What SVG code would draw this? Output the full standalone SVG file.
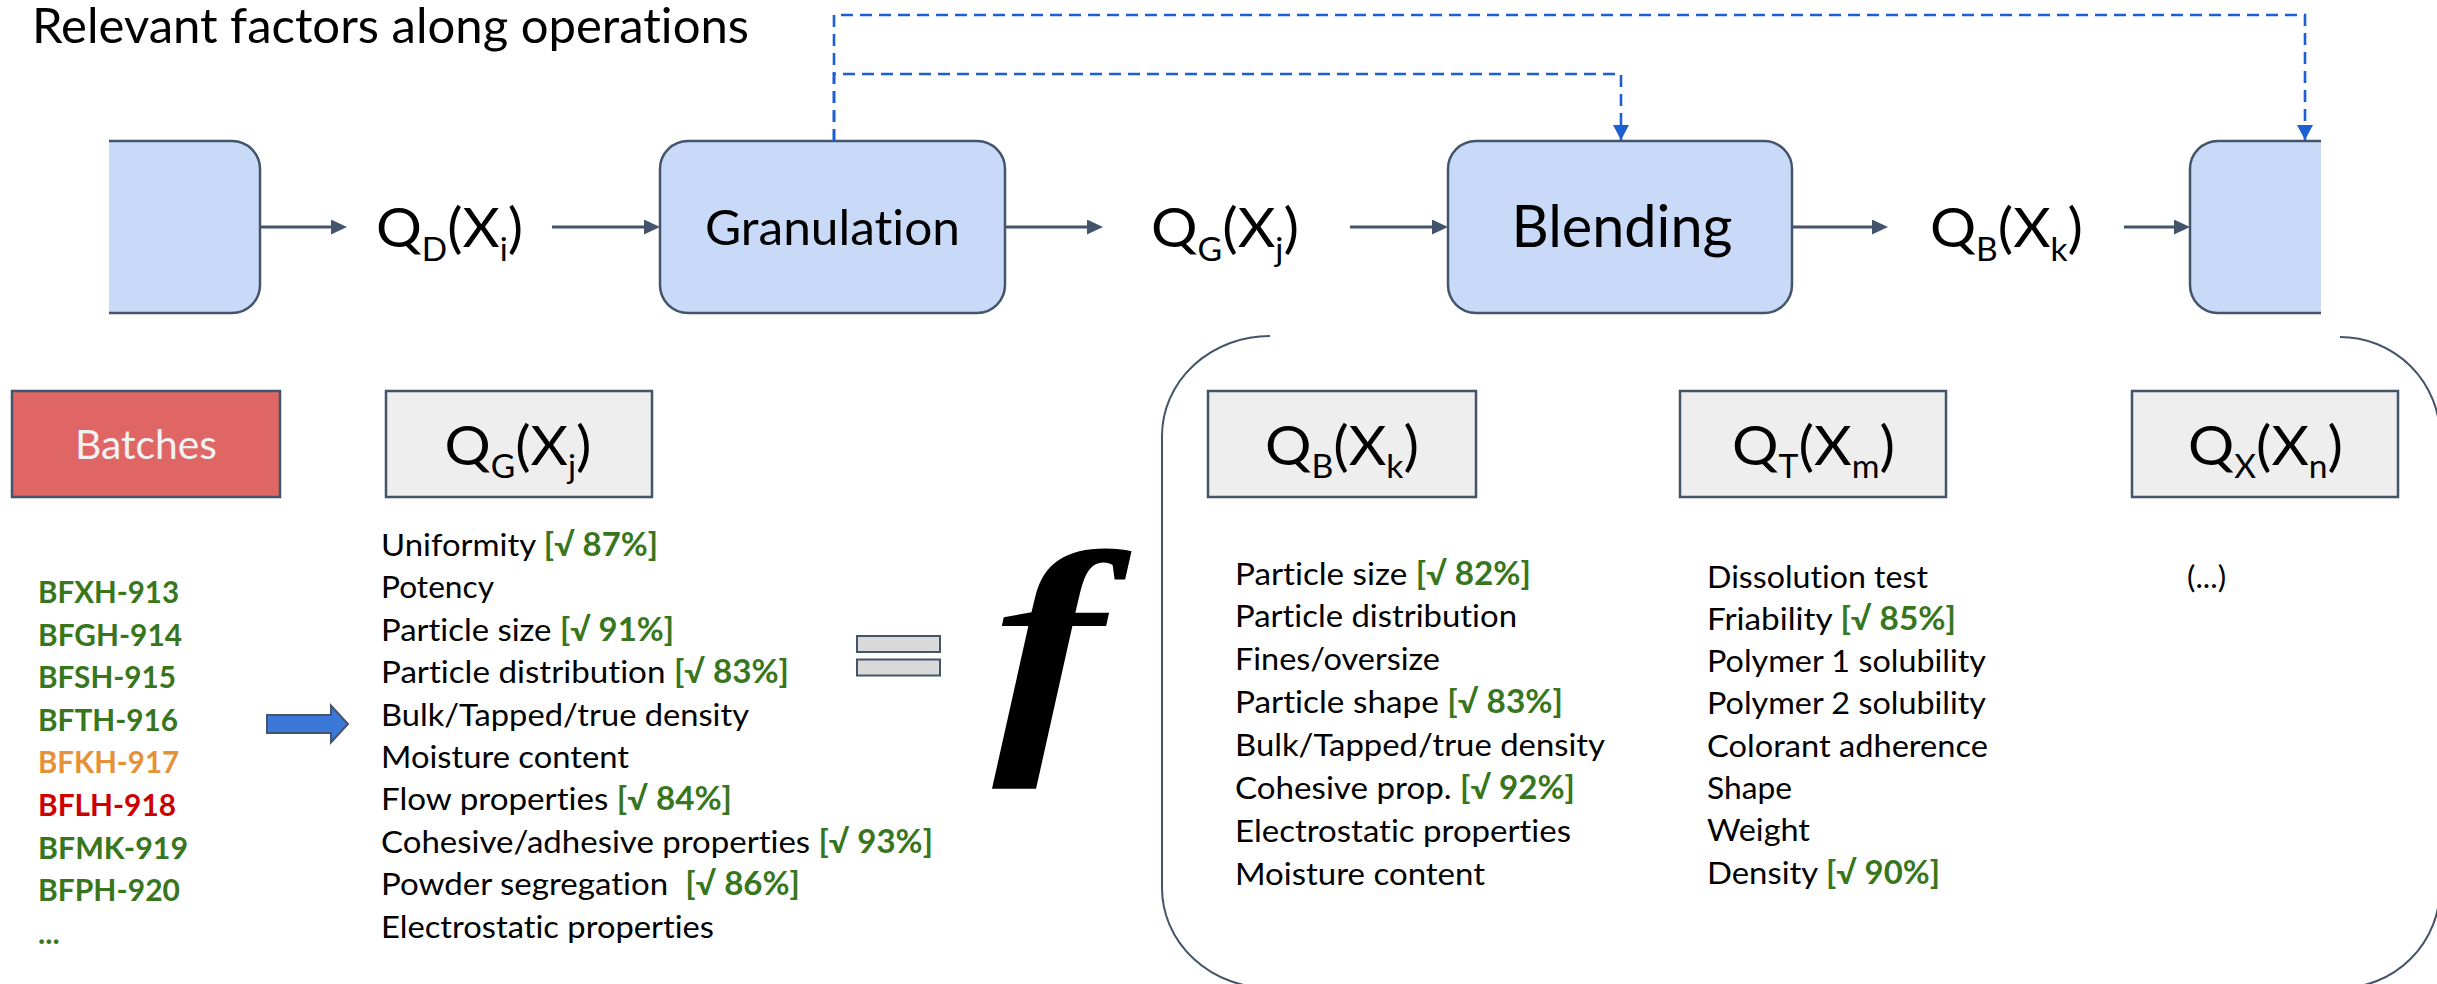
<svg xmlns="http://www.w3.org/2000/svg" width="2437" height="984" viewBox="0 0 2437 984">
  <defs>
    <style>
      .txt { font-family: Lato, "Liberation Sans", sans-serif; fill: #000; font-variant-ligatures: none; }
      .title { font-size: 48px; }
      .op { font-size: 48.5px; }
      .q { font-size: 55px; }
      .sub { font-size: 32px; }
      .list { font-size: 31.5px; }
      .ok { fill: #38761D; font-weight: bold; }
      .batch { font-size: 30.5px; font-weight: bold; fill: #38761D; }
      .proc { fill: #C9DAF8; stroke: #44546A; stroke-width: 2.5; }
      .qbox { fill: #EEEEEE; stroke: #44546A; stroke-width: 2.5; }
      .flow { fill: none; stroke: #44546A; stroke-width: 3; }
      .feed { fill: none; stroke: #1C5FD4; stroke-width: 2.6; stroke-dasharray: 12 7; }
      .bracket { fill: none; stroke: #44546A; stroke-width: 2; }
    </style>
    <marker id="ah" viewBox="0 0 16 15" refX="10" refY="7.5" markerWidth="16" markerHeight="15" markerUnits="userSpaceOnUse" orient="auto">
      <path d="M0,0 L16,7.5 L0,15 z" fill="#44546A"/>
    </marker>
    <marker id="ahBlue" viewBox="0 0 15 16" refX="15" refY="8" markerWidth="15" markerHeight="16" markerUnits="userSpaceOnUse" orient="auto">
      <path d="M0,0 L15,8 L0,16 z" fill="#1C5FD4"/>
    </marker>
  </defs>

  <rect width="2437" height="984" fill="#FFFFFF"/>

  <text class="txt title" x="32" y="43" textLength="717" lengthAdjust="spacingAndGlyphs">Relevant factors along operations</text>

  <!-- process chain -->
  <g id="node-upstream">
    <path class="proc" d="M109,141 H232 A28,28 0 0 1 260,169 V285 A28,28 0 0 1 232,313 H109"/>
  </g>
  <g id="node-qd">
    <text class="txt q" x="449.5" y="247" text-anchor="middle" textLength="147" lengthAdjust="spacingAndGlyphs">Q<tspan class="sub" dy="14">D</tspan><tspan dy="-14">(X</tspan><tspan class="sub" dy="14">i</tspan><tspan dy="-14">)</tspan></text>
  </g>
  <g id="node-granulation">
    <rect class="proc" x="660" y="141" width="345" height="172" rx="28" ry="28"/>
    <text class="txt op" x="832.5" y="245" text-anchor="middle" textLength="255" lengthAdjust="spacingAndGlyphs">Granulation</text>
  </g>
  <g id="node-qg">
    <text class="txt q" x="1225" y="247" text-anchor="middle" textLength="148" lengthAdjust="spacingAndGlyphs">Q<tspan class="sub" dy="14">G</tspan><tspan dy="-14">(X</tspan><tspan class="sub" dy="14">j</tspan><tspan dy="-14">)</tspan></text>
  </g>
  <g id="node-blending">
    <rect class="proc" x="1448" y="141" width="344" height="172" rx="28" ry="28"/>
    <text class="txt" x="1622" y="247" font-size="59" text-anchor="middle" textLength="221" lengthAdjust="spacingAndGlyphs">Blending</text>
  </g>
  <g id="node-qb">
    <text class="txt q" x="2006.5" y="247" text-anchor="middle" textLength="153" lengthAdjust="spacingAndGlyphs">Q<tspan class="sub" dy="14">B</tspan><tspan dy="-14">(X</tspan><tspan class="sub" dy="14">k</tspan><tspan dy="-14">)</tspan></text>
  </g>
  <g id="node-downstream">
    <path class="proc" d="M2321,141 H2218 A28,28 0 0 0 2190,169 V285 A28,28 0 0 0 2218,313 H2321"/>
  </g>

  <!-- connectors -->
  <g id="connectors">
    <line class="flow" x1="260" y1="227" x2="341" y2="227" marker-end="url(#ah)"/>
    <line class="flow" x1="552" y1="227" x2="654" y2="227" marker-end="url(#ah)"/>
    <line class="flow" x1="1005" y1="227" x2="1097" y2="227" marker-end="url(#ah)"/>
    <line class="flow" x1="1350" y1="227" x2="1442" y2="227" marker-end="url(#ah)"/>
    <line class="flow" x1="1792" y1="227" x2="1882" y2="227" marker-end="url(#ah)"/>
    <line class="flow" x1="2124" y1="227" x2="2184" y2="227" marker-end="url(#ah)"/>
    <path class="feed" d="M834,141 V15 H2305 V140" marker-end="url(#ahBlue)"/>
    <path class="feed" d="M834,141 V74 H1621 V140" marker-end="url(#ahBlue)"/>
  </g>

  <!-- batches -->
  <g id="node-batches">
    <rect x="12" y="391" width="268" height="106" fill="#E06666" stroke="#44546A" stroke-width="2.5"/>
    <text class="txt" x="146" y="459" font-size="40" style="fill:#F2F2F2" text-anchor="middle" textLength="142" lengthAdjust="spacingAndGlyphs">Batches</text>
  </g>
  <g id="batch-list">
    <text class="txt batch" x="38" y="603" textLength="141" lengthAdjust="spacingAndGlyphs">BFXH-913</text>
    <text class="txt batch" x="38" y="645.6" textLength="144" lengthAdjust="spacingAndGlyphs">BFGH-914</text>
    <text class="txt batch" x="38" y="688.2" textLength="138" lengthAdjust="spacingAndGlyphs">BFSH-915</text>
    <text class="txt batch" x="38" y="730.8" textLength="140" lengthAdjust="spacingAndGlyphs">BFTH-916</text>
    <text class="txt batch" x="38" y="773.4" style="fill:#E69138" textLength="141" lengthAdjust="spacingAndGlyphs">BFKH-917</text>
    <text class="txt batch" x="38" y="816" style="fill:#CC0000" textLength="138" lengthAdjust="spacingAndGlyphs">BFLH-918</text>
    <text class="txt batch" x="38" y="858.6" textLength="150" lengthAdjust="spacingAndGlyphs">BFMK-919</text>
    <text class="txt batch" x="38" y="901.2" textLength="142" lengthAdjust="spacingAndGlyphs">BFPH-920</text>
    <text class="txt batch" x="38" y="943.8">...</text>
  </g>
  <g id="batch-arrow">
    <path d="M267,715 H331 V705.5 L348,724 L331,742.5 V733 H267 Z" fill="#3C78D8" stroke="#44546A" stroke-width="2"/>
  </g>

  <!-- granulation quality attributes -->
  <g id="node-qg-box">
    <rect class="qbox" x="386" y="391" width="266" height="106"/>
    <text class="txt q" x="518" y="465" text-anchor="middle" textLength="147" lengthAdjust="spacingAndGlyphs">Q<tspan class="sub" dy="13">G</tspan><tspan dy="-13">(X</tspan><tspan class="sub" dy="13">j</tspan><tspan dy="-13">)</tspan></text>
  </g>
  <g id="qg-list">
    <text class="txt list" x="381" y="556" textLength="277" lengthAdjust="spacingAndGlyphs">Uniformity <tspan class="ok">[√ 87%]</tspan></text>
    <text class="txt list" x="381" y="598.4" textLength="113" lengthAdjust="spacingAndGlyphs">Potency</text>
    <text class="txt list" x="381" y="640.8" textLength="293" lengthAdjust="spacingAndGlyphs">Particle size <tspan class="ok">[√ 91%]</tspan></text>
    <text class="txt list" x="381" y="683.2" textLength="408" lengthAdjust="spacingAndGlyphs">Particle distribution <tspan class="ok">[√ 83%]</tspan></text>
    <text class="txt list" x="381" y="725.6" textLength="368" lengthAdjust="spacingAndGlyphs">Bulk/Tapped/true density</text>
    <text class="txt list" x="381" y="768" textLength="248" lengthAdjust="spacingAndGlyphs">Moisture content</text>
    <text class="txt list" x="381" y="810.4" textLength="351" lengthAdjust="spacingAndGlyphs">Flow properties <tspan class="ok">[√ 84%]</tspan></text>
    <text class="txt list" x="381" y="852.8" textLength="552" lengthAdjust="spacingAndGlyphs">Cohesive/adhesive properties <tspan class="ok">[√ 93%]</tspan></text>
    <text class="txt list" x="381" y="895.2" xml:space="preserve" textLength="419" lengthAdjust="spacingAndGlyphs">Powder segregation  <tspan class="ok">[√ 86%]</tspan></text>
    <text class="txt list" x="381" y="937.6" textLength="333" lengthAdjust="spacingAndGlyphs">Electrostatic properties</text>
  </g>

  <!-- equals sign and function symbol -->
  <g id="equals">
    <rect x="857" y="636" width="83" height="16" fill="#D9D9D9" stroke="#44546A" stroke-width="2"/>
    <rect x="857" y="659.5" width="83" height="16" fill="#D9D9D9" stroke="#44546A" stroke-width="2"/>
  </g>
  <g id="function">
    <text transform="translate(992,733) scale(1.28,1)" x="0" y="0" font-family="'Liberation Serif', serif" font-style="italic" font-weight="bold" font-size="262" fill="#000">f</text>
  </g>

  <!-- bracketed downstream attributes -->
  <g id="bracket">
    <path class="bracket" d="M1270,336 A108,100 0 0 0 1162,436 V888 A108,100 0 0 0 1270,988"/>
    <path class="bracket" d="M2340,337 A100,100 0 0 1 2440,437 V888 A100,100 0 0 1 2340,988"/>
  </g>

  <g id="node-qb-box">
    <rect class="qbox" x="1208" y="391" width="268" height="106"/>
    <text class="txt q" x="1342" y="465" text-anchor="middle" textLength="154" lengthAdjust="spacingAndGlyphs">Q<tspan class="sub" dy="13">B</tspan><tspan dy="-13">(X</tspan><tspan class="sub" dy="13">k</tspan><tspan dy="-13">)</tspan></text>
  </g>
  <g id="qb-list">
    <text class="txt list" x="1235" y="584.5" textLength="296" lengthAdjust="spacingAndGlyphs">Particle size <tspan class="ok">[√ 82%]</tspan></text>
    <text class="txt list" x="1235" y="627.4" textLength="282" lengthAdjust="spacingAndGlyphs">Particle distribution</text>
    <text class="txt list" x="1235" y="670.3" textLength="205" lengthAdjust="spacingAndGlyphs">Fines/oversize</text>
    <text class="txt list" x="1235" y="713.2" textLength="328" lengthAdjust="spacingAndGlyphs">Particle shape <tspan class="ok">[√ 83%]</tspan></text>
    <text class="txt list" x="1235" y="756.1" textLength="370" lengthAdjust="spacingAndGlyphs">Bulk/Tapped/true density</text>
    <text class="txt list" x="1235" y="799" textLength="340" lengthAdjust="spacingAndGlyphs">Cohesive prop. <tspan class="ok">[√ 92%]</tspan></text>
    <text class="txt list" x="1235" y="841.9" textLength="336" lengthAdjust="spacingAndGlyphs">Electrostatic properties</text>
    <text class="txt list" x="1235" y="884.8" textLength="250" lengthAdjust="spacingAndGlyphs">Moisture content</text>
  </g>

  <g id="node-qt-box">
    <rect class="qbox" x="1680" y="391" width="266" height="106"/>
    <text class="txt q" x="1813.5" y="465" text-anchor="middle" textLength="163" lengthAdjust="spacingAndGlyphs">Q<tspan class="sub" dy="13">T</tspan><tspan dy="-13">(X</tspan><tspan class="sub" dy="13">m</tspan><tspan dy="-13">)</tspan></text>
  </g>
  <g id="qt-list">
    <text class="txt list" x="1707" y="587.5" textLength="221" lengthAdjust="spacingAndGlyphs">Dissolution test</text>
    <text class="txt list" x="1707" y="629.8" textLength="249" lengthAdjust="spacingAndGlyphs">Friability <tspan class="ok">[√ 85%]</tspan></text>
    <text class="txt list" x="1707" y="672.1" textLength="279" lengthAdjust="spacingAndGlyphs">Polymer 1 solubility</text>
    <text class="txt list" x="1707" y="714.4" textLength="279" lengthAdjust="spacingAndGlyphs">Polymer 2 solubility</text>
    <text class="txt list" x="1707" y="756.7" textLength="281" lengthAdjust="spacingAndGlyphs">Colorant adherence</text>
    <text class="txt list" x="1707" y="799" textLength="85" lengthAdjust="spacingAndGlyphs">Shape</text>
    <text class="txt list" x="1707" y="841.3" textLength="103" lengthAdjust="spacingAndGlyphs">Weight</text>
    <text class="txt list" x="1707" y="883.6" textLength="233" lengthAdjust="spacingAndGlyphs">Density <tspan class="ok">[√ 90%]</tspan></text>
  </g>

  <g id="node-qx-box">
    <rect class="qbox" x="2132" y="391" width="266" height="106"/>
    <text class="txt q" x="2265.5" y="465" text-anchor="middle" textLength="155" lengthAdjust="spacingAndGlyphs">Q<tspan class="sub" dy="13">X</tspan><tspan dy="-13">(X</tspan><tspan class="sub" dy="13">n</tspan><tspan dy="-13">)</tspan></text>
  </g>
  <g id="qx-list">
    <text class="txt list" x="2187" y="587.5">(...)</text>
  </g>
</svg>
